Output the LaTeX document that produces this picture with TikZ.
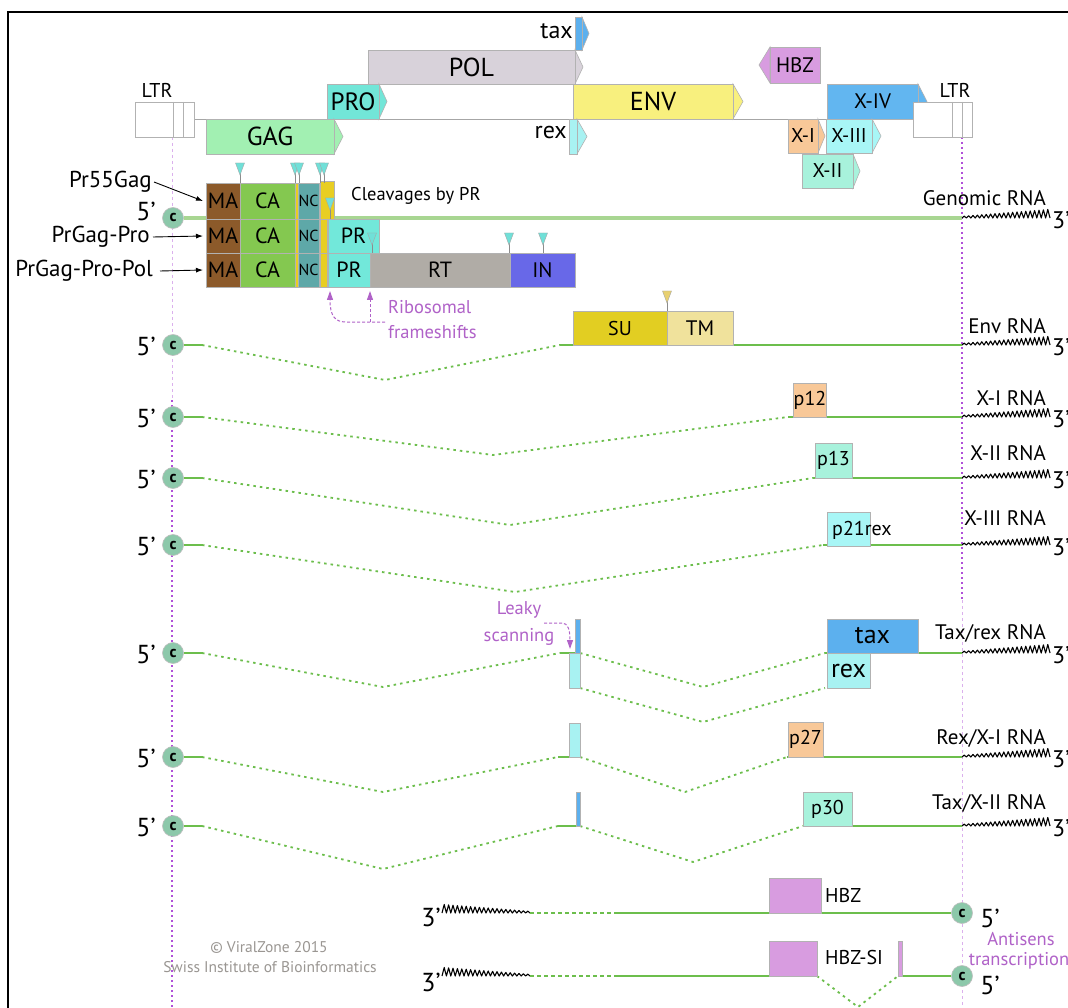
\documentclass[tikz,border=0pt]{standalone}
\usepackage{fontspec}
\setmainfont{PT Sans}
\usetikzlibrary{arrows.meta}
\definecolor{gagc}{HTML}{A2F0B2}
\definecolor{proc}{HTML}{72E6D8}
\definecolor{polc}{HTML}{D8D2DA}
\definecolor{envc}{HTML}{F8F07E}
\definecolor{hbzc}{HTML}{D89CE0}
\definecolor{xivc}{HTML}{62B6F0}
\definecolor{xic}{HTML}{F8C898}
\definecolor{xiiic}{HTML}{A8F6F6}
\definecolor{xiic}{HTML}{A8F2DC}
\definecolor{taxc}{HTML}{5CB0EE}
\definecolor{rexc}{HTML}{A8F2F2}
\definecolor{mac}{HTML}{8C5A2A}
\definecolor{cac}{HTML}{84C850}
\definecolor{ncc}{HTML}{5EA8A8}
\definecolor{ylc}{HTML}{E8CE22}
\definecolor{prc}{HTML}{72E8DA}
\definecolor{rtc}{HTML}{B0ACA6}
\definecolor{inc}{HTML}{6868E8}
\definecolor{suc}{HTML}{E2CE22}
\definecolor{tmc}{HTML}{F0E29C}
\definecolor{trc}{HTML}{E8D070}
\definecolor{rnac}{HTML}{6CBE4C}
\definecolor{genc}{HTML}{A8D692}
\definecolor{purpc}{HTML}{B062C8}
\definecolor{vlinec}{HTML}{B050D8}
\definecolor{capc}{HTML}{8CC8AA}
\definecolor{cltc}{HTML}{70E0D8}
\definecolor{cpyc}{HTML}{9A9692}
\newcommand\fsz[1]{\fontsize{#1}{#1}\selectfont}
\newcommand\gbox[8][]{\node[gb,fill=#7,minimum width={(#5-#3)*1pt},minimum height={(#6-#4)*1pt},#1] (#2) at ({(#3+#5)/2},{(#4+#6)/2}) {#8};}
\newcommand\gtip[5]{\filldraw[fill=#5,draw=black!30,line width=0.6pt] (#1,#2) -- (#4,{(#2+#3)/2}) -- (#1,#3) -- cycle;}
\newcommand\cleave[4][cltc]{\draw[black!45,line width=0.6pt] (#2,#3) -- (#2,#4); \filldraw[fill=#1,draw=black!35,line width=0.4pt] ({#2-4.5},#3) -- ({#2+4.5},#3) -- (#2,{#3+12}) -- cycle;}
\newcommand\fivep[5]{%
 \node[capnode] (c#1) at (173,#2) {c};
 \node[fp] at (146,{#2+1}) {5’};
 \coordinate (s#1a) at (202,#2); \coordinate (s#1b) at (#3,#4); \coordinate (s#1c) at (#5,#2);
 \draw[rna] (c#1.east) -- (s#1a);
 \draw[splice] (s#1a) -- (s#1b) -- (s#1c);}
\newcommand\threep[4]{%
 \coordinate (e#1) at (962,#2);
 \pic at (e#1) {polyA};
 \node[tp] at (1052,{#2+2}) {3’};
 \node[rlab] at (1046,#4) {#3};}
\begin{document}
\begin{tikzpicture}[x=1pt,y=-1pt,
  gb/.style={draw=black!30,line width=0.6pt,inner sep=0pt,outer sep=0pt,rectangle},
  capnode/.style={circle,fill=capc,draw=black!25,line width=0.6pt,minimum size=21pt,inner sep=0pt,font=\fsz{16}\bfseries},
  rna/.style={draw=rnac,line width=1.7pt},
  genl/.style={draw=genc,line width=3.2pt},
  splice/.style={draw=rnac,line width=1.8pt,dash pattern=on 2.5pt off 4pt},
  vlA/.style={draw=vlinec!45,line width=1pt,dash pattern=on 3pt off 3pt},
  vlB/.style={draw=vlinec,line width=1.3pt,dash pattern=on 2pt off 3pt},
  fp/.style={font=\fsz{26},inner sep=0pt},
  tp/.style={font=\fsz{24},inner sep=0pt,anchor=west},
  rlab/.style={font=\fsz{21},inner sep=0pt,anchor=east},
  ptxt/.style={text=purpc,font=\fsz{18.5},inner sep=0pt},
  arr/.style={-{Latex[length=7pt,width=5pt]},line width=0.9pt},
  parr/.style={draw=purpc,line width=1pt,dash pattern=on 3pt off 2pt,-{Triangle[length=9pt,width=6pt]}},
  polyA/.pic={\draw[black,line width=1.1pt,line join=round] (0,0) \foreach \i in {1,...,20}{ -- ({\i*4.4-2.2},{-(1.5+\i*0.35)}) -- ({\i*4.4},0)};}
]
\fill[white] (0,0) rectangle (1068,1008);
\useasboundingbox (0,0) rectangle (1068,1008);
\draw[line width=2pt] (8,1008) -- (8,12.5) -- (1068,12.5);

% vertical guides
\draw[vlA] (172,137) -- (172,400);
\draw[vlB] (172,400) -- (172,1008);
\draw[vlB] (962,137) -- (962,600);
\draw[vlA] (962,600) -- (962,1008);

% genome backbone
\draw[black!35,line width=0.8pt] (194,119) -- (913,119);

% genes
\gtip{575}{50}{84}{583}{polc}
\gbox[font=\fsz{26}]{pol}{368}{50}{575}{84}{polc}{POL}
\gtip{582}{17}{50}{589}{taxc}
\gbox{taxg}{575}{17}{582}{50}{taxc}{}
\node[anchor=east,inner sep=0pt,font=\fsz{24}] (taxl) at (573,31) {tax};
\gtip{379}{84}{119}{387}{proc}
\gbox[font=\fsz{25}]{pro}{327}{84}{379}{119}{proc}{PRO}
\gtip{733}{84}{119}{743}{envc}
\gbox[font=\fsz{26}]{env}{573}{84}{733}{119}{envc}{ENV}
\gtip{770}{47}{83}{759}{hbzc}
\gbox[font=\fsz{21}]{hbzg}{770}{47}{820}{83}{hbzc}{HBZ}
\gtip{918}{84}{119}{927}{xivc}
\gbox[font=\fsz{21}]{xiv}{827}{84}{918}{119}{xivc}{X-IV}
\gbox{ltrl}{135}{102}{194}{137}{white}{}
\draw[black!30,line width=0.6pt] (173,102) -- (173,137) (183,102) -- (183,137);
\node[font=\fsz{20},inner sep=0pt] (ltrll) at (157,90) {LTR};
\gbox{ltrr}{913}{102}{972}{137}{white}{}
\draw[black!30,line width=0.6pt] (952,102) -- (952,137) (962,102) -- (962,137);
\node[font=\fsz{20},inner sep=0pt] (ltrrl) at (955,90) {LTR};
\gtip{334}{119}{154}{343}{gagc}
\gbox[font=\fsz{26}]{gag}{206}{119}{334}{154}{gagc}{GAG}
\gtip{577}{119}{154}{587}{rexc}
\gbox{rexg}{569}{119}{577}{154}{rexc}{}
\node[anchor=east,inner sep=0pt,font=\fsz{24}] (rexl) at (567,133) {rex};
\gtip{818}{119}{153}{825}{xic}
\gbox[font=\fsz{20}]{xi}{788}{119}{818}{153}{xic}{X-I}
\gtip{872}{119}{153}{881}{xiiic}
\gbox[font=\fsz{20}]{xiii}{826}{119}{872}{153}{xiiic}{X-III}
\gtip{853}{154}{188}{860}{xiic}
\gbox[font=\fsz{20}]{xii}{802}{154}{853}{188}{xiic}{X-II}

% genomic RNA
\node[capnode] (c0) at (173,218) {c};
\node[fp] at (146,211) {5’};
\coordinate (e0) at (962,218);
\draw[genl] (c0.east) -- (e0);
\pic at (e0) {polyA};
\node[tp] at (1052,220) {3’};
\node[rlab] at (1046,198) {Genomic RNA};

% polyproteins
\foreach \r/\ya/\yb in {1/183/219,2/219/253,3/253/287}{
  \gbox[font=\fsz{22}]{ma\r}{206}{\ya}{240}{\yb}{mac}{MA}
  \gbox[font=\fsz{22}]{ca\r}{240}{\ya}{295}{\yb}{cac}{CA}
  \gbox{sp\r}{295}{\ya}{298}{\yb}{ylc}{}
  \gbox[font=\fsz{16}]{nc\r}{298}{\ya}{319}{\yb}{ncc}{NC}
}
\gbox{y1}{320}{181}{334}{219}{ylc}{}
\gbox{y2}{320}{219}{327}{253}{ylc}{}
\gbox{y3}{320}{253}{327}{287}{ylc}{}
\gbox[font=\fsz{22}]{pr2}{328}{219}{379}{253}{prc}{PR}
\gbox[font=\fsz{22}]{pr3}{328}{253}{370}{287}{prc}{PR}
\gbox[font=\fsz{22}]{rt}{370}{253}{510}{287}{rtc}{RT}
\gbox[font=\fsz{21}]{inn}{510}{253}{575}{287}{inc}{IN}
\cleave{240}{163}{183}
\cleave{295}{163}{183}
\cleave{299}{163}{183}
\cleave{320}{163}{183}
\cleave{324}{163}{183}
\cleave{330}{198}{219}
\cleave{372}{233}{253}
\cleave{509}{233}{253}
\cleave{543}{233}{253}

\node[anchor=east,inner sep=0pt,font=\fsz{23}] (l1) at (152,182) {Pr55Gag};
\node[anchor=east,inner sep=0pt,font=\fsz{23}] (l2) at (150,237) {PrGag-Pro};
\node[anchor=east,inner sep=0pt,font=\fsz{23}] (l3) at (153,271) {PrGag-Pro-Pol};
\draw[arr] ([xshift=2pt]l1.east) -- ([xshift=-3pt]ma1.west);
\draw[arr] ([xshift=3pt]l2.east) -- ([xshift=-3pt]ma2.west);
\draw[arr] ([xshift=7pt]l3.east) -- ([xshift=-3pt]ma3.west);
\node[anchor=west,inner sep=0pt,font=\fsz{18.5}] (clv) at (351,196) {Cleavages by PR};

% ribosomal frameshifts
\node[ptxt,anchor=west] (rib1) at (388,307) {Ribosomal};
\node[ptxt,anchor=west] (rib2) at (388,332) {frameshifts};
\coordinate (fs1) at (330,291);
\coordinate (fs2) at (370,291);
\draw[parr] (385,322) -- (346,322) .. controls (335,322) and (330,316) .. (fs1);
\draw[parr] (370,322) -- (fs2);

% Env RNA
\threep{1}{345}{Env RNA}{326}
\fivep{1}{345}{385}{380}{560}
\draw[rna] (s1c) -- (e1);
\gbox[font=\fsz{20}]{su}{573}{311}{667}{345}{suc}{SU}
\gbox[font=\fsz{21}]{tm}{667}{311}{733}{345}{tmc}{TM}
\cleave[trc]{667}{291}{311}

% X-I RNA
\threep{2}{417}{X-I RNA}{398}
\fivep{2}{417}{493}{455}{788}
\draw[rna] (s2c) -- (e2);
\gbox[font=\fsz{20}]{p12}{797}{383}{823}{417}{xic}{p12}

% X-II RNA
\threep{3}{478}{X-II RNA}{453}
\fivep{3}{478}{510}{525}{813}
\draw[rna] (s3c) -- (e3);
\gbox[font=\fsz{20}]{p13}{815}{443}{852}{478}{xiic}{p13}

% X-III RNA
\threep{4}{545}{X-III RNA}{518}
\fivep{4}{545}{515}{592}{823}
\draw[rna] (s4c) -- (e4);
\gbox{p21}{827}{512}{870}{546}{xiiic}{}
\node[anchor=west,inner sep=0pt,font=\fsz{20}] (p21l) at (832,530) {p21rex};

% Tax/rex RNA
\threep{5}{653}{Tax/rex RNA}{633}
\fivep{5}{653}{383}{687}{560}
\coordinate (t5a) at (580,653); \coordinate (t5b) at (703,687); \coordinate (t5c) at (825,653);
\coordinate (t5d) at (580,688); \coordinate (t5e) at (703,722); \coordinate (t5f) at (825,688);
\draw[rna] (s5c) -- (t5a);
\draw[splice] (t5a) -- (t5b) -- (t5c);
\draw[splice] (t5d) -- (t5e) -- (t5f);
\draw[rna] (t5c) -- (e5);
\gbox{b5}{575}{619}{580}{653}{taxc}{}
\gbox{b5r}{569}{653}{580}{688}{rexc}{}
\gbox[font=\fsz{26}]{taxb}{827}{619}{918}{653}{taxc}{tax}
\gbox[font=\fsz{26}]{rexb}{827}{653}{870}{688}{rexc}{rex}
\node[ptxt] (lk1) at (519,610) {Leaky};
\node[ptxt] (lk2) at (519,637) {scanning};
\coordinate (lkt) at (570,649);
\draw[parr] (544,623) -- (562,623) .. controls (568,623) and (570,630) .. (lkt);

% Rex/X-I RNA
\threep{6}{757}{Rex/X-I RNA}{738}
\fivep{6}{757}{383}{792}{558}
\coordinate (t6a) at (580,757); \coordinate (t6b) at (685,792); \coordinate (t6c) at (787,757);
\draw[rna] (s6c) -- (t6a);
\draw[splice] (t6a) -- (t6b) -- (t6c);
\draw[rna] (t6c) -- (e6);
\gbox{b6}{569}{723}{580}{757}{rexc}{}
\gbox[font=\fsz{20}]{p27}{788}{722}{823}{757}{xic}{p27}

% Tax/X-II RNA
\threep{7}{826}{Tax/X-II RNA}{803}
\fivep{7}{826}{383}{869}{558}
\coordinate (t7a) at (580,826); \coordinate (t7b) at (693,862); \coordinate (t7c) at (803,826);
\draw[rna] (s7c) -- (t7a);
\draw[splice] (t7a) -- (t7b) -- (t7c);
\draw[rna] (t7c) -- (e7);
\gbox{b7}{576}{792}{580}{826}{taxc}{}
\gbox[font=\fsz{20}]{p30}{803}{792}{852}{826}{xiic}{p30}

% HBZ RNA
\node[fp] (h3a) at (431,917) {3’};
\coordinate (h1a) at (530,913); \coordinate (h1b) at (617,913);
\pic[xscale=-1] at (h1a) {polyA};
\draw[rna,dash pattern=on 4pt off 3pt] (h1a) -- (h1b);
\node[capnode] (c8) at (962,913) {c};
\draw[rna] (h1b) -- (c8.west);
\gbox{hbz1}{769}{878}{821}{913}{hbzc}{}
\node[anchor=west,inner sep=0pt,font=\fsz{20}] (hbzl) at (825,895) {HBZ};
\node[fp] at (990,918) {5’};

% HBZ-SI RNA
\node[fp] (h3b) at (431,982) {3’};
\coordinate (h2a) at (530,976); \coordinate (h2b) at (617,976); \coordinate (h2c) at (817,976);
\coordinate (h2d) at (858,1007); \coordinate (h2e) at (898,976);
\pic[xscale=-1] at (h2a) {polyA};
\draw[rna,dash pattern=on 4pt off 3pt] (h2a) -- (h2b);
\draw[rna] (h2b) -- (h2c);
\draw[splice] (h2c) -- (h2d) -- (h2e);
\node[capnode] (c9) at (962,976) {c};
\draw[rna] (h2e) -- (c9.west);
\gbox{hbz2}{769}{941}{817}{976}{hbzc}{}
\gbox{hbz3}{898}{941}{902}{976}{hbzc}{}
\node[anchor=west,inner sep=0pt,font=\fsz{20}] (hbzsl) at (825,957) {HBZ-SI};
\node[fp] at (990,985) {5’};
\node[ptxt] (as1) at (1021,939) {Antisens};
\node[ptxt] (as2) at (1019,961) {transcription};

% credits
\node[text=cpyc,font=\fsz{15.5},inner sep=0pt] (cp1) at (269,947) {© ViralZone 2015};
\node[text=cpyc,font=\fsz{15.5},inner sep=0pt] (cp2) at (270,967) {Swiss Institute of Bioinformatics};
\end{tikzpicture}
\end{document}
